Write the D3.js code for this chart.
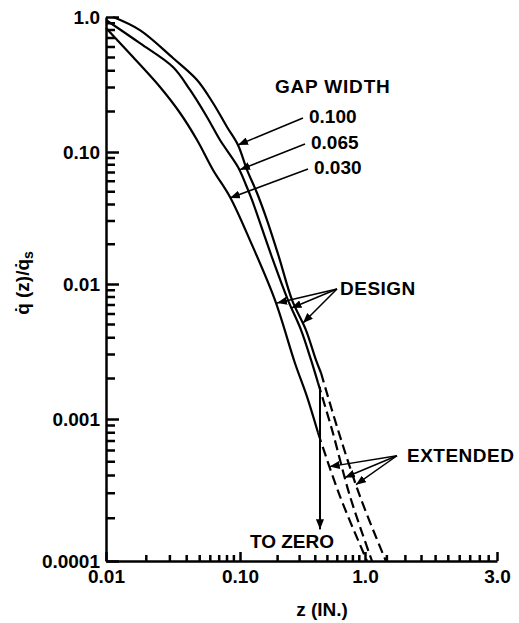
<!DOCTYPE html>
<html lang="en">
<head>
  <meta charset="UTF-8">
  <title>Heating ratio vs gap depth</title>
  <script src="https://d3js.org/d3.v7.min.js"></script>
  <style>
    body { margin: 0; background: #fff; }
    svg { display: block; }
    text { font-family: "Liberation Sans", Arial, sans-serif; font-weight: bold; fill: #000; }
  </style>
</head>
<body>
  <svg id="chart" width="519" height="623"></svg>
  <script>
    // Data
    const gapWidths = ["0.100", "0.065", "0.030"];

    // design curves (solid)
    const z100 = [0.0113, 0.0179, 0.0316, 0.0478, 0.0629, 0.080, 0.0966, 0.1138, 0.1368, 0.1644, 0.205, 0.261, 0.337, 0.405, 0.445];
    const q100 = [1.0, 0.80, 0.497, 0.3415, 0.2307, 0.1532, 0.1127, 0.0731, 0.0489, 0.0305, 0.0160, 0.0076, 0.00456, 0.00274, 0.00219];
    const z065 = [0.010, 0.0179, 0.0316, 0.0424, 0.0567, 0.0709, 0.0966, 0.1117, 0.1247, 0.180, 0.242, 0.308, 0.370, 0.421];
    const q065 = [0.95, 0.64, 0.426, 0.288, 0.1816, 0.1227, 0.077, 0.0562, 0.0433, 0.0160, 0.0076, 0.00456, 0.00274, 0.00185];
    const z030 = [0.010, 0.0159, 0.0253, 0.0357, 0.0478, 0.0629, 0.0842, 0.120, 0.1905, 0.275, 0.344, 0.421];
    const q030 = [0.83, 0.505, 0.303, 0.1945, 0.1227, 0.0731, 0.0456, 0.0215, 0.0076, 0.0026, 0.00146, 0.0008];

    // extended curves (dashed)
    const zExt100 = [0.445, 0.608, 0.912, 1.19];
    const qExt100 = [0.00219, 0.000838, 0.000285, 0.0001];
    const zExt065 = [0.421, 0.545, 0.759, 1.06];
    const qExt065 = [0.00185, 0.000838, 0.000285, 0.0001];
    const zExt030 = [0.421, 0.631, 1.017];
    const qExt030 = [0.0008, 0.000285, 0.0001];

    // axis ticks
    const xTicks = [0.01, 0.1, 1, 3];
    const xTickLabels = ["0.01", "0.10", "1.0", "3.0"];
    const xMinorTicks = [0.02, 0.03, 0.04, 0.05, 0.06, 0.07, 0.08, 0.09,
                         0.2, 0.3, 0.4, 0.5, 0.6, 0.7, 0.8, 0.9,
                         1.2, 1.4, 1.6, 1.8, 2.0, 2.2, 2.4, 2.6, 2.8];
    const yTicks = [1, 0.1, 0.01, 0.001, 0.0001];
    const yTickLabels = ["1.0", "0.10", "0.01", "0.001", "0.0001"];
    const yMinorTicks = [0.9, 0.8, 0.7, 0.6, 0.5, 0.4, 0.3, 0.2,
                         0.09, 0.08, 0.07, 0.06, 0.05, 0.04, 0.03, 0.02,
                         0.009, 0.008, 0.007, 0.006, 0.005, 0.004, 0.003, 0.002,
                         0.0009, 0.0008, 0.0007, 0.0006, 0.0005, 0.0004, 0.0003, 0.0002];

    // annotation anchors in data units [z, q]
    const gapLeaders = [
      {tail: [0.319, 0.1786], tip: [0.0966, 0.1127]},
      {tail: [0.331, 0.1147], tip: [0.100, 0.0735]},
      {tail: [0.350, 0.0743], tip: [0.0842, 0.0448]}
    ];
    const gapTitleAt = [0.1905, 0.2735];
    const designFrom = [0.597, 0.00918];
    const designTips = [[0.1977, 0.00723], [0.2582, 0.00664], [0.319, 0.00514]];
    const extFrom = [1.305, 0.000551];
    const extTips = [[0.522, 0.000462], [0.691, 0.000387], [0.847, 0.000345]];
    const toZero = {z: 0.4365, from: 0.00173, to: 0.000167};
    const toZeroLabelAt = [0.2606, 0.000123];

    const svg = d3.select("#chart");
    const FS = 19;

    // the scanned axes are not evenly spaced per decade, so use piecewise log scales
    const x = d3.scaleLog().domain([0.01, 0.1, 1, 3]).range([106, 240, 365, 497]);
    const y = d3.scaleLog().domain([1, 0.1, 0.01, 0.001, 0.0001]).range([17, 152, 284, 419, 561]);

    const axisY = y(0.0001), axisX = x(0.01);

    // minor ticks as one path per axis
    const yMinorPath = yMinorTicks.map(d => `M${axisX},${y(d).toFixed(1)}h9`).join("");
    const xMinorPath = xMinorTicks.map(d => `M${x(d).toFixed(1)},${axisY}v-6`).join("");
    svg.append("path")
      .attr("d", yMinorPath + xMinorPath)
      .attr("fill", "none")
      .attr("stroke", "#000")
      .attr("stroke-width", 2.5);

    // main axes
    const yAxis = svg.append("g")
      .attr("class", "axis")
      .attr("transform", `translate(${axisX},0)`)
      .call(d3.axisLeft(y).tickValues(yTicks).tickSize(-13).tickSizeOuter(0).tickPadding(6)
        .tickFormat((d, i) => yTickLabels[i]));

    const xAxis = svg.append("g")
      .attr("class", "axis")
      .attr("transform", `translate(0,${axisY})`)
      .call(d3.axisBottom(x).tickValues(xTicks).tickSize(-9).tickSizeOuter(0).tickPadding(9)
        .tickFormat((d, i) => xTickLabels[i]));

    svg.selectAll(".axis path, .axis line").attr("stroke", "#000").attr("stroke-width", 2.5);
    svg.selectAll(".axis text").attr("font-size", FS).attr("fill", "#000")
      .style("font-family", "'Liberation Sans', Arial, sans-serif").style("font-weight", "bold");

    // axis titles
    svg.append("text")
      .attr("x", 322)
      .attr("y", 616)
      .attr("text-anchor", "middle")
      .attr("font-size", FS)
      .text("z (IN.)");

    const yTitle = svg.append("text")
      .attr("transform", `translate(29,283) rotate(-90)`)
      .attr("text-anchor", "middle")
      .attr("font-size", FS);
    yTitle.append("tspan").text("q\u0307 (z)/q\u0307");
    yTitle.append("tspan").attr("dy", 4).attr("font-size", 14).text("s");

    // arrowhead marker
    svg.append("defs").append("marker")
      .attr("id", "arr")
      .attr("markerUnits", "userSpaceOnUse")
      .attr("viewBox", "0 0 10 8")
      .attr("markerWidth", 10).attr("markerHeight", 8)
      .attr("refX", 10).attr("refY", 4)
      .attr("orient", "auto")
      .append("path").attr("d", "M0,0 L10,4 L0,8 Z").attr("fill", "#000");

    const line = d3.line()
      .x(d => x(d[0]))
      .y(d => y(d[1]))
      .curve(d3.curveCatmullRom.alpha(0.5));

    const zip = (zs, qs) => zs.map((z, i) => [z, qs[i]]);

    const design = [zip(z100, q100), zip(z065, q065), zip(z030, q030)];
    const extended = [zip(zExt100, qExt100), zip(zExt065, qExt065), zip(zExt030, qExt030)];

    svg.selectAll(".design")
      .data(design)
      .enter().append("path")
      .attr("class", "design")
      .attr("d", line)
      .attr("fill", "none")
      .attr("stroke", "#000")
      .attr("stroke-width", 2.2);

    svg.selectAll(".extended")
      .data(extended)
      .enter().append("path")
      .attr("class", "extended")
      .attr("d", line)
      .attr("fill", "none")
      .attr("stroke", "#000")
      .attr("stroke-width", 2.2)
      .attr("stroke-dasharray", "10,5");

    // GAP WIDTH legend with leaders
    svg.append("text")
      .attr("x", x(gapTitleAt[0]))
      .attr("y", y(gapTitleAt[1]))
      .attr("font-size", FS)
      .attr("letter-spacing", 0.8)
      .text("GAP WIDTH");

    gapLeaders.forEach((l, i) => {
      svg.append("line")
        .attr("x1", x(l.tail[0])).attr("y1", y(l.tail[1]))
        .attr("x2", x(l.tip[0])).attr("y2", y(l.tip[1]))
        .attr("stroke", "#000").attr("stroke-width", 1.5)
        .attr("marker-end", "url(#arr)");
      svg.append("text")
        .attr("x", x(l.tail[0]) + 6)
        .attr("y", y(l.tail[1]) + 5)
        .attr("font-size", FS)
        .text(gapWidths[i]);
    });

    // DESIGN / EXTENDED callouts
    function callout(from, tips, label, dx) {
      tips.forEach(t => {
        svg.append("line")
          .attr("x1", x(from[0])).attr("y1", y(from[1]))
          .attr("x2", x(t[0])).attr("y2", y(t[1]))
          .attr("stroke", "#000").attr("stroke-width", 1.5)
          .attr("marker-end", "url(#arr)");
      });
      svg.append("text")
        .attr("x", x(from[0]) + dx)
        .attr("y", y(from[1]) + 6)
        .attr("font-size", FS)
        .attr("letter-spacing", 0.5)
        .text(label);
    }
    callout(designFrom, designTips, "DESIGN", 3);
    callout(extFrom, extTips, "EXTENDED", 10);

    // TO ZERO arrow
    svg.append("line")
      .attr("x1", x(toZero.z)).attr("y1", y(toZero.from))
      .attr("x2", x(toZero.z)).attr("y2", y(toZero.to))
      .attr("stroke", "#000").attr("stroke-width", 2)
      .attr("marker-end", "url(#arr)");
    svg.append("text")
      .attr("x", x(toZeroLabelAt[0]))
      .attr("y", y(toZeroLabelAt[1]))
      .attr("text-anchor", "middle")
      .attr("font-size", FS)
      .text("TO ZERO");
  </script>
</body>
</html>
